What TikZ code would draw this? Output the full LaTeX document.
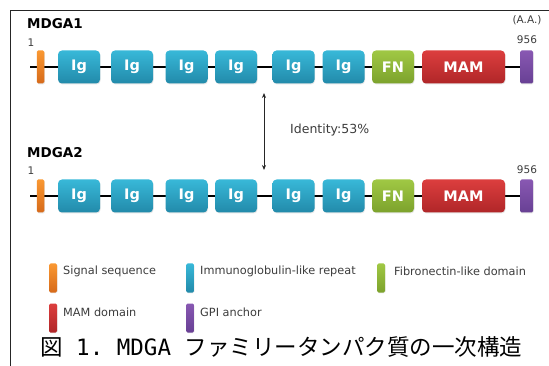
\documentclass[tikz,border=0pt]{standalone}
\usepackage{fontspec}
\setmainfont{DejaVu Sans}
\newfontfamily\cjkf{Noto Sans CJK JP}
\newfontfamily\monof{DejaVu Sans Mono}
\usetikzlibrary{arrows.meta,shadows,backgrounds}
\definecolor{igT}{RGB}{56,184,216}
\definecolor{igB}{RGB}{34,138,170}
\definecolor{orT}{RGB}{250,152,50}
\definecolor{orB}{RGB}{214,106,26}
\definecolor{grT}{RGB}{160,200,68}
\definecolor{grB}{RGB}{124,162,44}
\definecolor{rdT}{RGB}{220,62,62}
\definecolor{rdB}{RGB}{176,38,40}
\definecolor{puT}{RGB}{136,88,178}
\definecolor{puB}{RGB}{104,64,148}
\definecolor{txt}{RGB}{60,60,60}
\tikzset{
  dom/.style={rounded corners=4pt, minimum height=33pt, inner sep=0pt,
    text=white, font=\fontsize{14.5}{15}\selectfont\bfseries,
    drop shadow={opacity=0.2, shadow xshift=0.6pt, shadow yshift=-1pt}},
  igbox/.style={dom, minimum width=42pt, top color=igT, bottom color=igB},
  fnbox/.style={dom, minimum width=42pt, top color=grT, bottom color=grB},
  mambox/.style={dom, minimum width=83pt, top color=rdT, bottom color=rdB},
  sigbox/.style={dom, minimum width=7.5pt, rounded corners=1.5pt, top color=orT, bottom color=orB},
  gpibox/.style={dom, minimum width=13pt, rounded corners=1.5pt, top color=puT, bottom color=puB},
  sw/.style={rounded corners=1.5pt, minimum width=8pt, minimum height=29pt, inner sep=0pt,
    drop shadow={opacity=0.15, shadow xshift=0.5pt, shadow yshift=-0.8pt}},
  chain/.style={line width=1.4pt, black},
  title/.style={font=\fontsize{13.5}{14}\selectfont\bfseries, anchor=west, inner sep=0pt},
  num/.style={font=\fontsize{10.5}{11}\selectfont, text=txt, inner sep=0pt},
  leg/.style={font=\fontsize{11.3}{12}\selectfont, text=txt, anchor=west, inner sep=0pt},
  frame/.style={line width=1pt, black!85}
}
\begin{document}
\begin{tikzpicture}[x=1pt,y=-1pt]
\useasboundingbox (0,0) rectangle (549,366);
% frame
\coordinate (fl) at (10,366);
\coordinate (fc) at (10,11);
\coordinate (fr) at (549,11);
\draw[frame] (fl) -- (fc) -- (fr);

% ---------- row 1 ----------
\node[title] (t1) at (27,24) {MDGA1};
\node[num] (n1a) at (31,43) {1};
\node[num] (aa) at (527,20) {(A.A.)};
\node[num] (n1b) at (527,40) {956};
\coordinate (s1) at (30,67);
\node[sigbox] (sig1) at (40.5,67) {};
\node[igbox] (ia1) at (79,67) {Ig};
\node[igbox] (ib1) at (132,67) {Ig};
\node[igbox] (ic1) at (186.5,67) {Ig};
\node[igbox] (id1) at (236,67) {Ig};
\node[igbox] (ie1) at (293.5,67) {Ig};
\node[igbox] (if1) at (343.5,67) {Ig};
\node[fnbox] (fn1) at (393,67) {FN};
\node[mambox] (mam1) at (463.5,67) {MAM};
\node[gpibox] (gpi1) at (526.5,67) {};
\begin{scope}[on background layer]
\draw[chain] (s1) -- (gpi1.west);
\end{scope}

% ---------- row 2 ----------
\node[title] (t2) at (27,153) {MDGA2};
\node[num] (n2a) at (31,171) {1};
\node[num] (n2b) at (527,170) {956};
\coordinate (s2) at (30,196);
\node[sigbox] (sig2) at (40.5,196) {};
\node[igbox] (ia2) at (79,196) {Ig};
\node[igbox] (ib2) at (132,196) {Ig};
\node[igbox] (ic2) at (186.5,196) {Ig};
\node[igbox] (id2) at (236,196) {Ig};
\node[igbox] (ie2) at (293.5,196) {Ig};
\node[igbox] (if2) at (343.5,196) {Ig};
\node[fnbox] (fn2) at (393,196) {FN};
\node[mambox] (mam2) at (463.5,196) {MAM};
\node[gpibox] (gpi2) at (526.5,196) {};
\begin{scope}[on background layer]
\draw[chain] (s2) -- (gpi2.west);
\end{scope}

% identity arrow
\coordinate (arT) at (264,93);
\coordinate (arB) at (264,170);
\draw[line width=0.8pt, black!85, {Stealth[length=5pt,width=4pt]}-{Stealth[length=5pt,width=4pt]}] (arT) -- (arB);
\node[font=\fontsize{12.5}{13}\selectfont, text=txt, anchor=west, inner sep=0pt] (idt) at (290,130) {Identity:53\%};

% ---------- legend ----------
\node[sw, top color=orT, bottom color=orB] (l1) at (53,278) {};
\node[leg] (lt1) at (63,271) {Signal sequence};
\node[sw, top color=igT, bottom color=igB] (l2) at (190,278) {};
\node[leg] (lt2) at (200,271) {Immunoglobulin-like repeat};
\node[sw, top color=grT, bottom color=grB] (l3) at (381,278) {};
\node[leg] (lt3) at (394,271) {Fibronectin-like domain};
\node[sw, top color=rdT, bottom color=rdB] (l4) at (53,318) {};
\node[leg] (lt4) at (63,312) {MAM domain};
\node[sw, top color=puT, bottom color=puB] (l5) at (190,318) {};
\node[leg] (lt5) at (200,312) {GPI anchor};

% caption
\node[anchor=west, inner sep=0pt, font=\fontsize{22.5}{24}\selectfont] (cap) at (40,347)
  {{\cjkf 図}{\monof\ 1.\ MDGA\ }{\cjkf ファミリータンパク質の一次構造}};
\end{tikzpicture}
\end{document}
